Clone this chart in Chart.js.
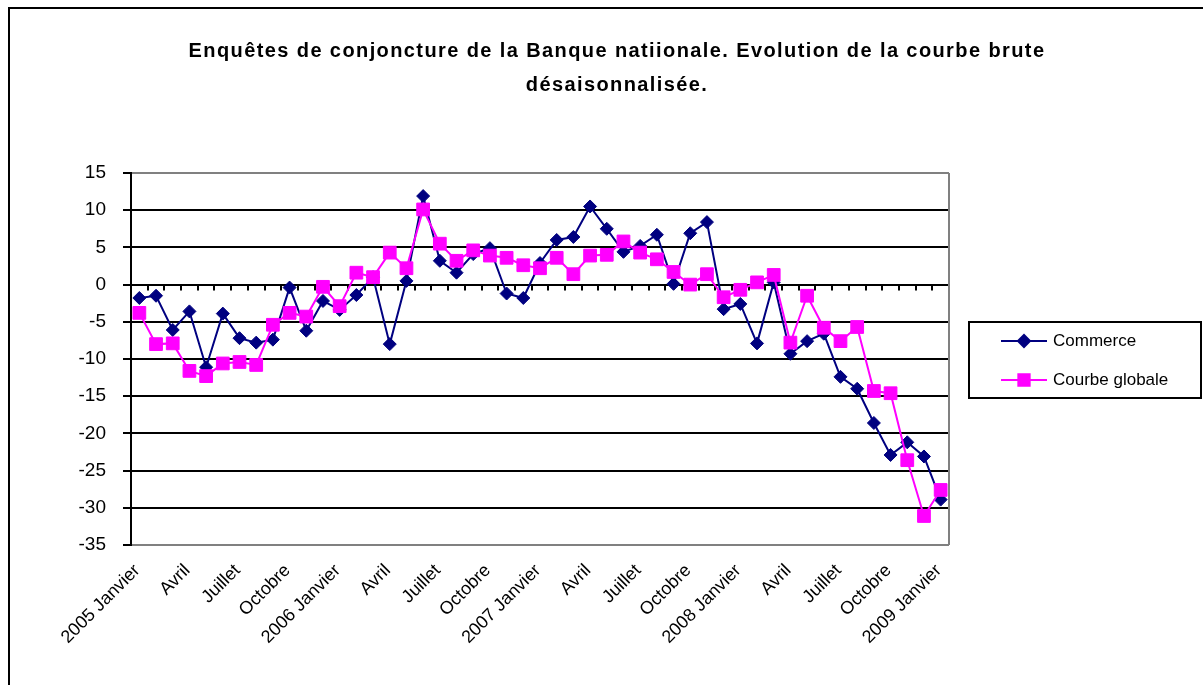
<!DOCTYPE html>
<html>
<head>
<meta charset="utf-8">
<script src="https://cdn.jsdelivr.net/npm/chart.js@4.4.1/dist/chart.umd.min.js"></script>
<style>
  html, body { margin: 0; padding: 0; background: #fff; overflow: hidden; }
  #frame { position: absolute; left: 8px; top: 7px; width: 1214px; height: 700px; border: 2px solid #000; }
  canvas { display: block; }
</style>
</head>
<body>
<div id="frame"><canvas id="chart" width="1214" height="700"></canvas></div>
<script>
const years = [2005, 2006, 2007, 2008, 2009];
const months = ['Janvier', 'Février', 'Mars', 'Avril', 'Mai', 'Juin',
  'Juillet', 'Août', 'Septembre', 'Octobre', 'Novembre', 'Décembre'];

// 2005 Janvier .. 2009 Janvier
const categories = [];
for (const y of years) {
  for (let m = 0; m < 12; m++) {
    if (y === 2009 && m > 0) break;
    categories.push(m === 0 ? y + ' ' + months[m] : months[m]);
  }
}

const commerce = [
  -1.8, -1.5, -6.1, -3.6, -11.1, -3.9, -7.2, -7.8, -7.4, -0.4, -6.2, -2.2,
  -3.4, -1.4, 1.0, -8.0, 0.5, 11.9, 3.2, 1.6, 4.1, 4.9, -1.2, -1.8,
  2.9, 6.0, 6.4, 10.5, 7.5, 4.4, 5.2, 6.7, 0.1, 6.9, 8.4, -3.3,
  -2.6, -7.9, 0.3, -9.3, -7.6, -6.6, -12.4, -14.0, -18.6, -22.9, -21.2, -23.1,
  -28.9
];

const courbeGlobale = [
  -3.8, -8.0, -7.9, -11.6, -12.3, -10.6, -10.4, -10.8, -5.4, -3.8, -4.3, -0.3,
  -2.9, 1.6, 1.0, 4.3, 2.2, 10.1, 5.5, 3.2, 4.6, 3.9, 3.6, 2.6,
  2.2, 3.6, 1.4, 3.9, 4.0, 5.8, 4.3, 3.4, 1.7, 0.0, 1.4, -1.7,
  -0.7, 0.3, 1.3, -7.8, -1.5, -5.8, -7.6, -5.7, -14.3, -14.6, -23.6, -31.1,
  -27.6
];

const yMin = -35;
const yMax = 15;
const yStep = 5;

const FONT = "'Liberation Sans', Arial, sans-serif";

// the title in the original is set quite wide
const titleSpacing = {
  id: 'titleSpacing',
  beforeDraw(chart) { chart.ctx.letterSpacing = '1.4px'; },
  beforeDatasetsDraw(chart) { chart.ctx.letterSpacing = '0px'; }
};

// small tick marks on the zero line, between the categories
const zeroTicks = {
  id: 'zeroTicks',
  beforeDatasetsDraw(chart) {
    const { ctx, scales: { x, y } } = chart;
    const y0 = y.getPixelForValue(0);
    const half = (x.getPixelForValue(1) - x.getPixelForValue(0)) / 2;
    ctx.save();
    ctx.strokeStyle = '#000';
    ctx.lineWidth = 2;
    ctx.beginPath();
    for (let i = 0; i <= categories.length; i++) {
      const px = Math.round(x.getPixelForValue(i) - half);
      ctx.moveTo(px, y0);
      ctx.lineTo(px, y0 + 6);
    }
    ctx.stroke();
    // right edge of the plot
    ctx.strokeStyle = '#808080';
    ctx.beginPath();
    ctx.moveTo(chart.chartArea.right, chart.chartArea.top);
    ctx.lineTo(chart.chartArea.right, chart.chartArea.bottom);
    ctx.stroke();
    ctx.restore();
  }
};

// boxed legend with line + marker samples
const legendBox = {
  id: 'legendBox',
  afterDraw(chart) {
    const { ctx, chartArea } = chart;
    const w = 232, h = 76;
    const left = chartArea.right + 20;
    const top = (chartArea.top + chartArea.bottom) / 2 - h / 2 + 1;
    ctx.save();
    ctx.lineWidth = 2;
    ctx.strokeStyle = '#000';
    ctx.strokeRect(left, top, w, h);
    chart.data.datasets.forEach((ds, i) => {
      const yy = top + 19 + i * 39;
      ctx.strokeStyle = ds.borderColor;
      ctx.lineWidth = 2;
      ctx.beginPath();
      ctx.moveTo(left + 32, yy);
      ctx.lineTo(left + 78, yy);
      ctx.stroke();
      ctx.fillStyle = ds.pointBackgroundColor;
      ctx.strokeStyle = ds.pointBackgroundColor;
      Chart.helpers.drawPoint(ctx, {
        pointStyle: ds.pointStyle,
        radius: ds.legendRadius,
        borderWidth: 1
      }, left + 55, yy);
      ctx.fillStyle = '#000';
      ctx.font = '17px ' + FONT;
      ctx.textBaseline = 'middle';
      ctx.textAlign = 'left';
      ctx.fillText(ds.label, left + 84, yy);
    });
    ctx.restore();
  }
};

new Chart(document.getElementById('chart'), {
  type: 'line',
  data: {
    labels: categories,
    datasets: [
      {
        label: 'Commerce',
        data: commerce,
        borderColor: '#000080',
        borderWidth: 2,
        pointStyle: 'rectRot',
        pointRadius: 6.5,
        legendRadius: 6,
        pointBackgroundColor: '#000080',
        pointBorderColor: '#000080',
        pointBorderWidth: 1,
        tension: 0,
        order: 2
      },
      {
        label: 'Courbe globale',
        data: courbeGlobale,
        borderColor: '#ff00ff',
        borderWidth: 2,
        pointStyle: 'rect',
        pointRadius: 9,
        legendRadius: 8,
        pointBackgroundColor: '#ff00ff',
        pointBorderColor: '#ff00ff',
        pointBorderWidth: 1,
        tension: 0,
        order: 1
      }
    ]
  },
  options: {
    responsive: false,
    animation: false,
    plugins: {
      legend: { display: false },
      tooltip: { enabled: false },
      title: {
        display: true,
        text: ['Enquêtes de conjoncture de la Banque natiionale. Evolution de la courbe brute',
          'désaisonnalisée.'],
        color: '#000',
        font: { family: FONT, size: 20, weight: 'bold', lineHeight: 34 / 20 },
        padding: { top: 25, bottom: 71 }
      }
    },
    scales: {
      x: {
        offset: true,
        grid: { display: false, drawTicks: false },
        border: { display: false },
        ticks: {
          z: 1,
          autoSkip: false,
          minRotation: 45,
          maxRotation: 45,
          padding: 15,
          labelOffset: -2,
          color: '#000',
          font: { family: FONT, size: 18 },
          callback: (value, i) => (i % 3 === 0 ? categories[i] : '')
        },
        afterFit: (scale) => { scale.height = 700 - 536; }
      },
      y: {
        min: yMin,
        max: yMax,
        grid: {
          color: (c) => (c.tick.value === yMax || c.tick.value === yMin ? '#808080' : '#000'),
          tickColor: '#000',
          lineWidth: 2,
          tickLength: 8
        },
        border: { color: '#000', width: 2 },
        ticks: {
          z: 1,
          stepSize: yStep,
          padding: 17,
          color: '#000',
          font: { family: FONT, size: 19 }
        },
        afterFit: (scale) => { scale.width = 121; }
      },
      // empty axis that keeps room for the legend on the right
      side: {
        axis: 'y',
        position: 'right',
        grid: { display: false, drawTicks: false },
        border: { display: false },
        ticks: { display: false },
        afterFit: (scale) => { scale.width = 275; }
      }
    }
  },
  plugins: [titleSpacing, zeroTicks, legendBox]
});
</script>
</body>
</html>
